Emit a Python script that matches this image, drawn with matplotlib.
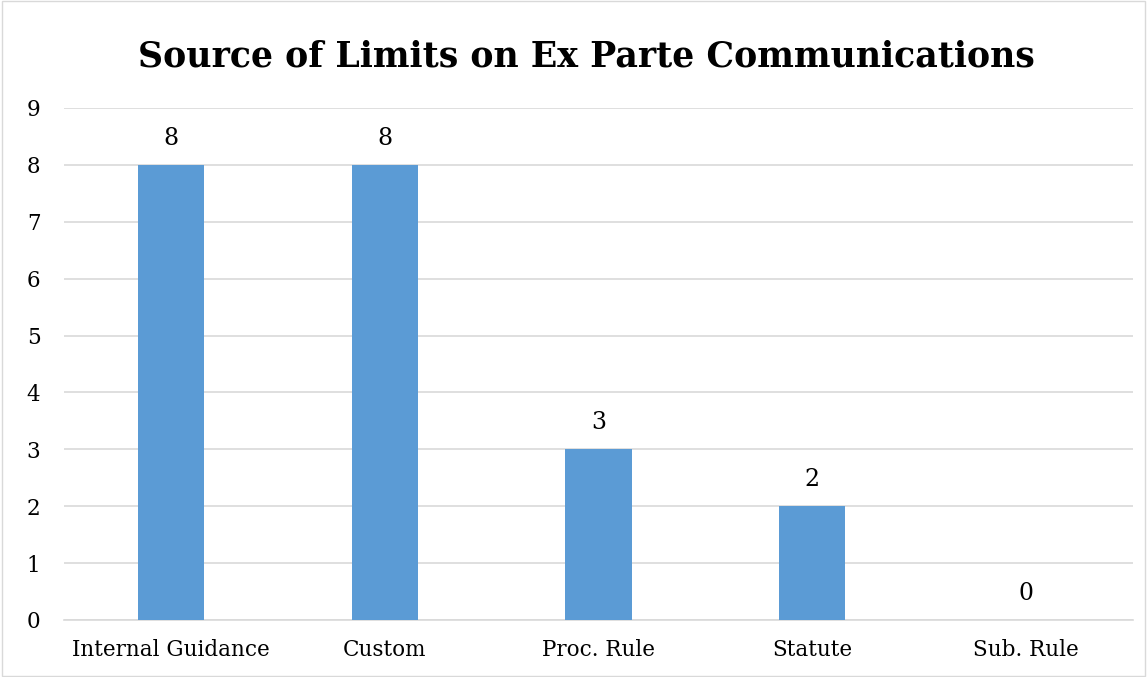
import matplotlib.pyplot as plt
import numpy as np

categories = ["Internal Guidance", "Custom", "Proc. Rule", "Statute", "Sub. Rule"]
counts = [8, 8, 3, 2, 0]
y_ticks = list(range(0, 10))

plt.rcParams['font.family'] = ['DejaVu Serif']

fig = plt.figure(figsize=(11.47, 6.77), dpi=100)
ax = fig.add_axes([0.0558, 0.0842, 0.932, 0.7563])

x = np.arange(len(categories))
bars = ax.bar(x, counts, width=0.31, color="#5B9BD5", zorder=3)

for xi, v in zip(x, counts):
    ax.text(xi, v + 0.27, str(v), ha="center", va="bottom", fontsize=17, color="#000000")

ax.set_xlim(-0.5, len(categories) - 0.5)
ax.set_ylim(0, 9)
ax.set_yticks(y_ticks)
ax.set_xticks(x)
ax.set_xticklabels(categories, fontsize=15.5)
ax.tick_params(axis="y", labelsize=15.5, length=0, pad=17)
ax.tick_params(axis="x", length=0, pad=14)
ax.yaxis.grid(True, color="#D9D9D9", linewidth=1.2, zorder=0)
for s in ["top", "right", "left"]:
    ax.spines[s].set_visible(False)
ax.spines["bottom"].set_color("#D9D9D9")
ax.spines["bottom"].set_linewidth(1.2)

fig.text(0.511, 0.916, "Source of Limits on Ex Parte Communications",
         ha="center", va="center", fontsize=25, fontweight="bold")

# light frame round the chart area
fig.patches.append(plt.Rectangle((0.002, 0.002), 0.996, 0.996, transform=fig.transFigure,
                                 fill=False, edgecolor="#D9D9D9", linewidth=1))

fig.savefig("out.png", dpi=100)
